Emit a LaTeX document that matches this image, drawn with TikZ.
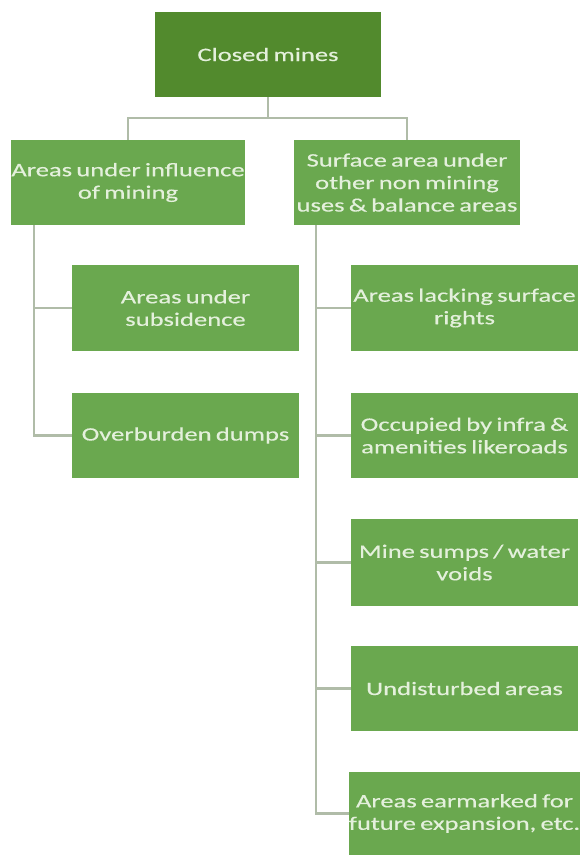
\documentclass[tikz,border=0pt]{standalone}
\usepackage{fontspec}
\setmainfont{Carlito}[FakeStretch=1.4,WordSpace=0.7,FakeBold=0.4]
\definecolor{topgreen}{HTML}{528A2D}
\definecolor{boxgreen}{HTML}{6AA84F}
\definecolor{txtgreen}{HTML}{E4F0DC}
\definecolor{linegray}{HTML}{B0BCA8}
\begin{document}
\begin{tikzpicture}[x=1pt,y=-1pt,
  box/.style={draw=none,fill=boxgreen,text=txtgreen,align=center,inner sep=0pt,
    font=\fontsize{19}{22.5}\selectfont},
  topbox/.style={box,fill=topgreen},
  conn/.style={draw=linegray,line width=2.2pt}]
\useasboundingbox (0,0) rectangle (583,855);
% nodes
\node[topbox,minimum width=226pt,minimum height=85pt] (top) at (268,54.5) {Closed mines};
\node[box,minimum width=228pt,minimum height=85pt] (L1) at (128,182.5) {Areas under influence\\of mining};
\node[box,minimum width=226pt,minimum height=85pt] (R1) at (407,182.5) {Surface area under\\other non mining\\uses \& balance areas};
\node[box,minimum width=227pt,minimum height=86pt] (L2a) at (185.5,308) {Areas under\\subsidence};
\node[box,minimum width=227pt,minimum height=85pt] (L2b) at (185.5,435.5) {Overburden dumps};
\node[box,minimum width=227pt,minimum height=86pt] (R2a) at (464.5,308) {Areas lacking surface\\rights};
\node[box,minimum width=227pt,minimum height=85pt] (R2b) at (464.5,435.5) {Occupied by infra \&\\amenities likeroads};
\node[box,minimum width=227pt,minimum height=87pt] (R2c) at (464.5,562.5) {Mine sumps / water\\voids};
\node[box,minimum width=227pt,minimum height=85pt] (R2d) at (464.5,688.5) {Undisturbed areas};
\node[box,minimum width=227pt,minimum height=83pt] (R2e) at (464.5,813.5) {Areas earmarked for\\future expansion, etc.};
% connectors
\coordinate (j) at (268,118);
\draw[conn] (top.south) -- (j);
\draw[conn] (L1.north) |- (j) -| (R1.north);
\coordinate (lt) at ([xshift=23pt]L1.south west);
\coordinate (rt) at ([xshift=22pt]R1.south west);
\draw[conn] (lt) |- (L2b.west);
\draw[conn] (lt |- L2a.west) -- (L2a.west);
\draw[conn] (rt) |- (R2e.west);
\draw[conn] (rt |- R2a.west) -- (R2a.west);
\draw[conn] (rt |- R2b.west) -- (R2b.west);
\draw[conn] (rt |- R2c.west) -- (R2c.west);
\draw[conn] (rt |- R2d.west) -- (R2d.west);
\end{tikzpicture}
\end{document}
